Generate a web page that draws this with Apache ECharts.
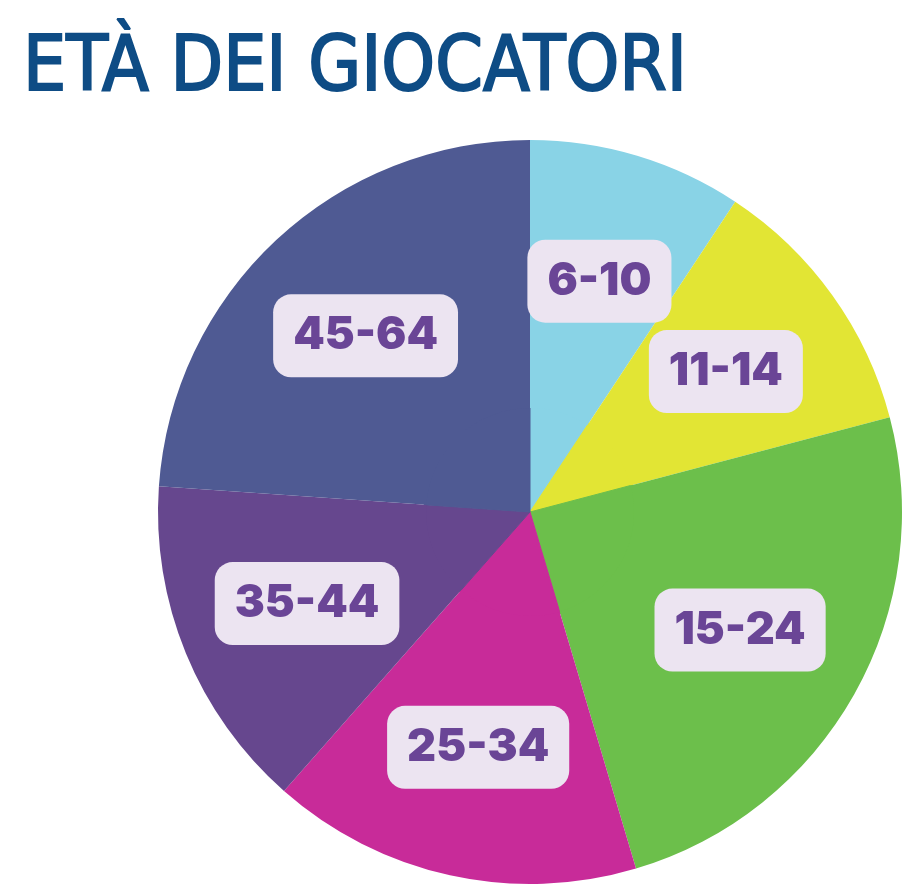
<!DOCTYPE html>
<html><head><meta charset="utf-8">
<script src="https://cdn.jsdelivr.net/npm/echarts@6/dist/echarts.min.js"></script>
<style>html,body{margin:0;padding:0;background:#fff}#c{width:904px;height:886px}</style>
</head><body><div id="c"></div>
<script>
const categories = ['6-10', '11-14', '15-24', '25-34', '35-44', '45-64'];
const values = [9.3, 11.6, 24.5, 16.1, 14.6, 23.9];
const colors = ['#89D3E6', '#E2E534', '#6CBF4B', '#C82B99', '#66478E', '#4F5A93'];
const titleText = 'ETÀ DEI GIOCATORI';

const data = categories.map((c, i) => ({ name: c, value: values[i], itemStyle: { color: colors[i], borderColor: colors[i], borderWidth: 1 } }));
const chart = echarts.init(document.getElementById('c'), null, { renderer: 'canvas' });
chart.setOption({
  animation: false,
  backgroundColor: '#ffffff',
  title: {
    text: titleText, left: 18, top: 27,
    textStyle: { fontFamily: 'DejaVu Sans Condensed', fontWeight: 'normal', fontSize: 76, color: '#0E4C85',
      textBorderColor: '#0E4C85', textBorderWidth: 2 }
  },
  series: [
    {
      type: 'pie', center: [530, 512], radius: [0, 106], startAngle: 90, clockwise: true,
      silent: true, label: { show: false }, labelLine: { show: false },
      data: data
    },
    {
      type: 'pie', center: [530, 512], radius: [104, 372], startAngle: 90, clockwise: true,
      silent: true,
      itemStyle: { borderWidth: 0 },
      label: {
        show: true, position: 'inside', formatter: '{b}',
        fontFamily: 'Inter', fontWeight: 900, fontSize: 45, color: '#6A4596',
        backgroundColor: '#ECE4F1', borderRadius: 18, padding: [21, 20, 17, 20]
      },
      labelLine: { show: false },
      data: categories.map((c, i) => ({ name: c, value: values[i], itemStyle: { color: colors[i] } }))
    }
  ]
});
</script></body></html>
